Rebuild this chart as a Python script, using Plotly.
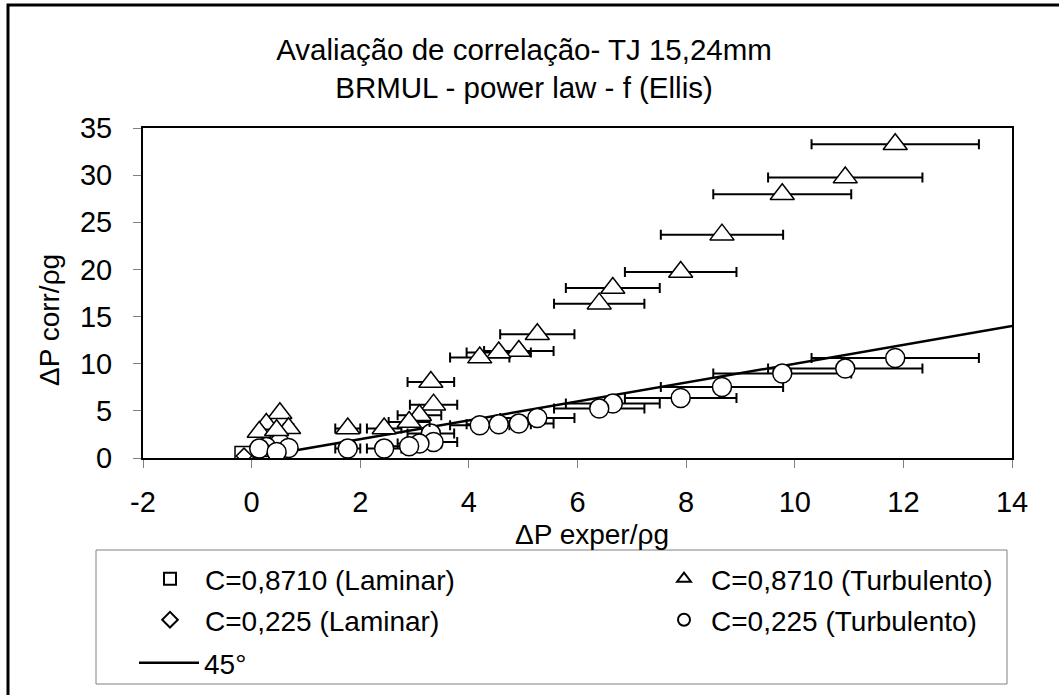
import plotly.graph_objects as go

# ---- data ----
lam_sq_x = [-0.14]
lam_sq_y = [0.26]
lam_di_x = [-0.14]
lam_di_y = [0.22]

turb_x = [11.85, 10.93, 9.77, 8.66, 7.90, 6.65, 6.40, 5.26, 4.92, 4.55, 4.20,
          3.30, 3.35, 3.09, 2.90, 2.44, 1.77, 0.52, 0.27, 0.68, 0.14, 0.46]
tri_y = [33.27, 29.74, 27.97, 23.69, 19.73, 18.03, 16.37, 13.12, 11.35, 11.18, 10.65,
         8.06, 5.66, 4.53, 3.82, 3.12, 3.12, 4.75, 3.60, 3.15, 2.76, 2.94]
circ_y = [10.61, 9.48, 8.95, 7.53, 6.36, 5.77, 5.24, 4.24, 3.65, 3.57, 3.47,
          2.59, 1.70, 1.53, 1.24, 1.00, 1.00, 1.59, 1.17, 1.06, 1.00, 0.64]
err_pct = 13

line_x = [0, 14]
line_y = [0, 14]

x_ticks = [-2, 0, 2, 4, 6, 8, 10, 12, 14]
x_ticklabels = ["-2", "0", "2", "4", "6", "8", "10", "12", "14"]
y_ticks = [0, 5, 10, 15, 20, 25, 30, 35]
x_range = [-2, 14]
y_range = [0, 35]

FONT = "Liberation Sans, Arial, sans-serif"

# plot-area geometry (pixels)
W, H = 1059, 695
L, R, T, B = 143, 47, 128, 237
PW = W - L - R
PH = H - T - B


def px_x(p):
    return (p - L) / PW


def px_y(p):
    return (H - B - p) / PH


errx = dict(type="percent", value=err_pct, symmetric=True, color="black",
            thickness=2, width=5)

fig = go.Figure()

fig.add_trace(go.Scatter(x=line_x, y=line_y, mode="lines", name="45°",
                         line=dict(color="black", width=2.5), legend="legend5"))

fig.add_trace(go.Scatter(x=lam_sq_x, y=lam_sq_y, mode="markers", name="C=0,8710 (Laminar)",
                         marker=dict(symbol="square", size=18, color="white",
                                     line=dict(color="black", width=1.5)),
                         error_x=errx, legend="legend"))
fig.add_trace(go.Scatter(x=lam_di_x, y=lam_di_y, mode="markers", name="C=0,225 (Laminar)",
                         marker=dict(symbol="diamond", size=12, color="white",
                                     line=dict(color="black", width=1.5)),
                         error_x=errx, legend="legend3"))
fig.add_trace(go.Scatter(x=turb_x, y=circ_y, mode="markers", name="C=0,225 (Turbulento)",
                         marker=dict(symbol="circle", size=19, color="white",
                                     line=dict(color="black", width=1.5)),
                         error_x=errx, legend="legend4"))
fig.add_trace(go.Scatter(x=turb_x, y=tri_y, mode="markers", name="C=0,8710 (Turbulento)",
                         marker=dict(symbol="triangle-up", size=21, color="white",
                                     line=dict(color="black", width=1.5)),
                         error_x=errx, legend="legend2"))


def leg(xp, yp, iw, size=28, sizing="constant"):
    # xp: pixel position of the legend symbol centre
    start = xp - (iw + 10) / 2
    return dict(x=px_x(start), y=px_y(yp), xanchor="left", yanchor="middle",
                orientation="h", font=dict(family=FONT, size=size, color="black"),
                bgcolor="rgba(0,0,0,0)", borderwidth=0, itemsizing=sizing,
                itemwidth=iw, itemclick=False)


row1, row2, row3 = 579, 620, 663

fig.update_layout(
    width=W, height=H,
    margin=dict(l=L, r=R, t=T, b=B, autoexpand=False),
    paper_bgcolor="white", plot_bgcolor="white",
    font=dict(family=FONT, size=29, color="black"),
    title=dict(text="Avaliação de correlação- TJ 15,24mm<br>BRMUL - power law - f (Ellis)",
               xref="container", yref="container", x=524 / W, y=1 - 60 / H,
               xanchor="center", yanchor="middle",
               font=dict(family=FONT, size=29.5, color="black")),
    xaxis=dict(range=x_range, tickmode="array", tickvals=x_ticks, ticktext=x_ticklabels,
               showgrid=False, zeroline=False,
               showline=True, linecolor="black", linewidth=2, mirror=True,
               ticks="outside", ticklen=8, tickwidth=1, tickcolor="#808080",
               ticklabelstandoff=9,
               tickfont=dict(family=FONT, size=29, color="black")),
    yaxis=dict(range=y_range, tickmode="array", tickvals=y_ticks,
               showgrid=False, zeroline=False,
               showline=True, linecolor="black", linewidth=2, mirror=True,
               ticks="outside", ticklen=8, tickwidth=1, tickcolor="#808080",
               ticklabelstandoff=15,
               tickfont=dict(family=FONT, size=29, color="black")),
    showlegend=True,
    legend=leg(170, row1, 60),
    legend2=leg(684, row1, 44),
    legend3=leg(170, row2, 60),
    legend4=leg(684, row2, 44),
    legend5=leg(169, row3, 60, sizing="trace"),
    annotations=[
        dict(text="ΔP exper/ρg", xref="paper", yref="paper", x=px_x(592), y=px_y(534),
             xanchor="center", yanchor="middle", showarrow=False,
             font=dict(family=FONT, size=28, color="black")),
        dict(text="ΔP corr/ρg", xref="paper", yref="paper", x=px_x(49), y=px_y(320),
             xanchor="center", yanchor="middle", showarrow=False, textangle=-90,
             font=dict(family=FONT, size=28, color="black")),
    ],
    shapes=[
        dict(type="rect", xref="paper", yref="paper",
             x0=px_x(96), x1=px_x(1007), y0=px_y(550), y1=px_y(684),
             line=dict(color="#808080", width=1), fillcolor="rgba(0,0,0,0)", layer="below"),
        dict(type="rect", xref="paper", yref="paper",
             x0=px_x(8), x1=px_x(1070), y0=px_y(5), y1=px_y(705),
             line=dict(color="black", width=3), fillcolor="rgba(0,0,0,0)", layer="below"),
    ],
)

fig.write_html("out.html")
